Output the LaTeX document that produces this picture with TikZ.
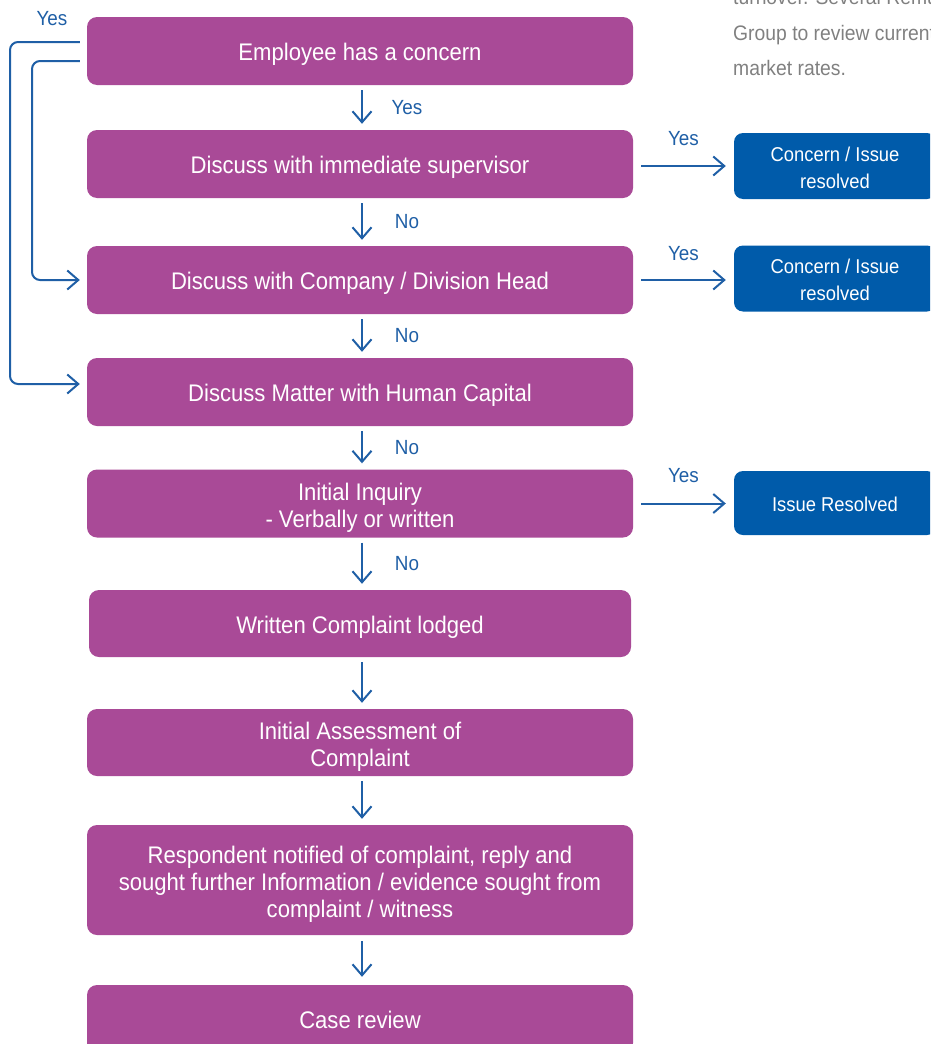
\documentclass[tikz,border=0pt]{standalone}
\usepackage{fontspec}
\setmainfont{Liberation Sans}[FakeStretch=0.92]
\usetikzlibrary{arrows.meta}
\definecolor{plum}{HTML}{A94A97}
\definecolor{navy}{HTML}{005BAA}
\definecolor{linkblue}{HTML}{1F5FA6}
\definecolor{notegray}{HTML}{808080}
% invisible rules that fix the vertical placement of box text
\newcommand\steptop{\rule{0pt}{24pt}}
\newcommand\stepbot{\rule[-5pt]{0pt}{5pt}}
\newcommand\stacktop{\rule{0pt}{29.3pt}}
\newcommand\outtop{\rule{0pt}{21.4pt}}
\newcommand\outbot{\rule[-4pt]{0pt}{4pt}}
\newcommand\outstacktop{\rule{0pt}{25.5pt}}
% centred lines hung from the first baseline
\newcommand\lines[1]{\begin{tabular}[t]{@{}c@{}}#1\end{tabular}}
\begin{document}
\begin{tikzpicture}[x=1pt,y=-1pt,
  stepbase/.style={fill=plum, rounded corners=10pt, minimum width=546pt, minimum height=68pt,
    text=white, font=\fontsize{24}{27}\selectfont, inner sep=0pt},
  stepbox/.style={stepbase, execute at begin node=\steptop, execute at end node=\stepbot},
  stepstack/.style={stepbase, execute at begin node=\stacktop},
  outbase/.style={fill=navy, rounded corners=9pt, minimum width=202pt, minimum height=66pt,
    text=white, font=\fontsize{20}{27}\selectfont, inner sep=0pt},
  outbox/.style={outbase, execute at begin node=\outtop, execute at end node=\outbot},
  outstack/.style={outbase, execute at begin node=\outstacktop},
  link/.style={draw=linkblue, line width=2pt,
    -{Straight Barb[length=11pt,width=19pt,line width=2pt]}},
  lbl/.style={text=linkblue, font=\fontsize{20.5}{24}\selectfont, inner sep=0pt},
  note/.style={text=notegray, font=\fontsize{21}{35}\selectfont, inner sep=0pt, anchor=base west},
]
\useasboundingbox (0,0) rectangle (930,1044);
\clip (0,0) rectangle (930,1044);

% side note text
\node[note] (n1) at (733,5) {turnover. Several Remuneration};
\node[note] (n2) at (733,40) {Group to review current};
\node[note] (n3) at (733,75) {market rates.};

% main steps
\node[stepbox] (b1) at (360,51) {Employee has a concern};
\node[stepbox] (b2) at (360,164) {Discuss with immediate supervisor};
\node[stepbox] (b3) at (360,280) {Discuss with Company / Division Head};
\node[stepbox] (b4) at (360,392) {Discuss Matter with Human Capital};
\node[stepstack] (b5) at (360,503.5) {\lines{Initial Inquiry\\- Verbally or written}};
\node[stepbox, minimum width=542pt, minimum height=67pt] (b6) at (360,623.5) {Written Complaint lodged};
\node[stepstack, minimum height=67pt] (b7) at (360,742.5) {\lines{Initial Assessment of\\ Complaint}};
\node[stepstack, minimum height=110pt] (b8) at (360,880) {\lines{Respondent notified of complaint, reply and\\sought further Information / evidence sought from\\complaint / witness}};
\node[stepbox] (b9) at (360,1019) {Case review};

% outcomes
\node[outstack] (r1) at (835,166) {\lines{Concern / Issue\\resolved}};
\node[outstack] (r2) at (835,278.5) {\lines{Concern / Issue\\resolved}};
\node[outbox, minimum height=64pt] (r3) at (835,503) {Issue Resolved};

% downward flow
\draw[link, shorten <=5pt, shorten >=6pt] ([xshift=2pt]b1.south) -- ([xshift=2pt]b2.north)
  node[lbl, midway, xshift=45pt] {Yes};
\draw[link, shorten <=5pt, shorten >=6pt] ([xshift=2pt]b2.south) -- ([xshift=2pt]b3.north)
  node[lbl, midway, xshift=45pt] {No};
\draw[link, shorten <=5pt, shorten >=6pt] ([xshift=2pt]b3.south) -- ([xshift=2pt]b4.north)
  node[lbl, midway, xshift=45pt] {No};
\draw[link, shorten <=5pt, shorten >=6pt] ([xshift=2pt]b4.south) -- ([xshift=2pt]b5.north)
  node[lbl, midway, xshift=45pt] {No};
\draw[link, shorten <=5pt, shorten >=6pt] ([xshift=2pt]b5.south) -- ([xshift=2pt]b6.north)
  node[lbl, midway, xshift=45pt] {No};
\draw[link, shorten <=5pt, shorten >=6pt] ([xshift=2pt]b6.south) -- ([xshift=2pt]b7.north);
\draw[link, shorten <=5pt, shorten >=6pt] ([xshift=2pt]b7.south) -- ([xshift=2pt]b8.north);
\draw[link, shorten <=6pt, shorten >=8pt] ([xshift=2pt]b8.south) -- ([xshift=2pt]b9.north);

% sideways to outcomes
\draw[link, shorten <=8pt, shorten >=8pt] ([yshift=-2pt]b2.east) -- ([yshift=-2pt]b2.east -| r1.west)
  node[lbl, midway, yshift=27pt] {Yes};
\draw[link, shorten <=8pt, shorten >=8pt] (b3.east) -- (b3.east -| r2.west)
  node[lbl, midway, yshift=26pt] {Yes};
\draw[link, shorten <=8pt, shorten >=8pt] (b5.east) -- (b5.east -| r3.west)
  node[lbl, midway, yshift=28pt] {Yes};

% escalation loops on the left
\node[lbl] (yes0) at (52,19) {Yes};
\draw[link, rounded corners=8pt] ([xshift=-7pt,yshift=9pt]b1.west) -- (10,42) -- (10,384)
  -- ([xshift=-7pt,yshift=8pt]b4.west);
\draw[link, rounded corners=8pt] ([xshift=-7pt,yshift=-10pt]b1.west) -- (32,61) -- (32,280)
  -- ([xshift=-7pt]b3.west);
\end{tikzpicture}
\end{document}
